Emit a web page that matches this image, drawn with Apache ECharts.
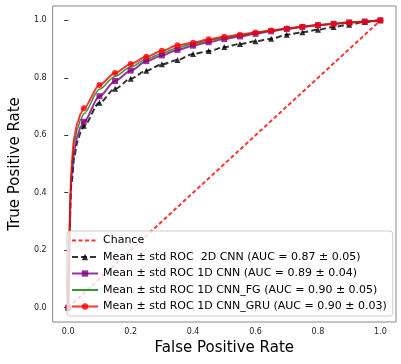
<!DOCTYPE html>
<html lang="en">
<head>
    <meta charset="UTF-8">
    <title>ROC</title>
    <script src="https://cdn.jsdelivr.net/npm/echarts@6/dist/echarts.min.js"></script>
    <style>
        body { margin: 0; background: #fff; }
        #roc { width: 401px; height: 364px; }
    </style>
</head>
<body>
    <div id="roc"></div>
    <script>
        // false positive rate grid (markers every 0.05)
        var fpr = [0, 0.01, 0.02, 0.03, 0.04, 0.05, 0.10, 0.15, 0.20, 0.25, 0.30, 0.35, 0.40, 0.45,
            0.50, 0.55, 0.60, 0.65, 0.70, 0.75, 0.80, 0.85, 0.90, 0.95, 1.00];
        var tpr2dCnn = [0, 0.43, 0.53, 0.58, 0.61, 0.633, 0.713, 0.762, 0.797, 0.825, 0.847, 0.862, 0.883, 0.893,
            0.907, 0.918, 0.927, 0.936, 0.950, 0.959, 0.967, 0.977, 0.985, 0.994, 1.0];
        var tpr1dCnn = [0, 0.45, 0.55, 0.60, 0.63, 0.647, 0.736, 0.789, 0.825, 0.858, 0.878, 0.897, 0.912, 0.924,
            0.935, 0.944, 0.953, 0.962, 0.970, 0.977, 0.983, 0.988, 0.993, 0.996, 1.0];
        var tpr1dCnnFg = [0, 0.48, 0.58, 0.625, 0.655, 0.675, 0.760, 0.805, 0.838, 0.865, 0.885, 0.905, 0.918, 0.930,
            0.940, 0.948, 0.956, 0.964, 0.971, 0.978, 0.984, 0.988, 0.993, 0.996, 1.0];
        var tpr1dCnnGru = [0, 0.50, 0.60, 0.645, 0.675, 0.694, 0.775, 0.817, 0.848, 0.873, 0.894, 0.913, 0.922, 0.934,
            0.943, 0.950, 0.958, 0.965, 0.972, 0.978, 0.984, 0.987, 0.992, 0.995, 1.0];
        var chanceX = [0, 1];
        var tickVals = [0, 0.2, 0.4, 0.6, 0.8, 1.0];
        var names = ['Chance',
            'Mean ± std ROC  2D CNN (AUC = 0.87 ± 0.05)',
            'Mean ± std ROC 1D CNN (AUC = 0.89 ± 0.04)',
            'Mean ± std ROC 1D CNN_FG (AUC = 0.90 ± 0.05)',
            'Mean ± std ROC 1D CNN_GRU (AUC = 0.90 ± 0.03)'];

        function pts(ys, withMarks) {
            var out = [];
            for (var i = 0; i < fpr.length; i++) {
                var item = { value: [fpr[i], ys[i]] };
                // only the 0.05 grid points carry a marker
                if (!withMarks || (i > 0 && i < 5)) item.symbol = 'none';
                out.push(item);
            }
            return out;
        }

        var myChart = echarts.init(document.getElementById('roc'));
        var font = 'DejaVu Sans';
        var axisCommon = {
            type: 'value',
            min: -0.05,
            max: 1.05,
            nameLocation: 'middle',
            nameTextStyle: { fontFamily: font, fontSize: 15, color: '#000' },
            axisLine: { show: false },
            splitLine: { show: false },
            axisTick: { show: true, inside: false, length: 4, customValues: tickVals, lineStyle: { color: '#333' } },
            axisLabel: {
                customValues: tickVals,
                fontFamily: font, fontSize: 8, color: '#222',
                margin: 6,
                formatter: function(v) { return v.toFixed(1); }
            }
        };

        var option = {
            animation: false,
            grid: { left: 45, right: 5, top: 6, bottom: 42, show: true, borderColor: '#888', borderWidth: 1 },
            xAxis: Object.assign({}, axisCommon, { name: 'False Positive Rate', nameGap: 16 }),
            yAxis: Object.assign({}, axisCommon, { name: 'True Positive Rate', nameGap: 20 }),
            legend: {
                orient: 'vertical',
                left: 67,
                top: 231,
                padding: [4, 6, 4, 4],
                itemWidth: 26,
                itemHeight: 8,
                itemGap: 5.5,
                backgroundColor: 'rgba(255,255,255,0.8)',
                borderColor: '#ccc',
                borderWidth: 1,
                borderRadius: 3,
                textStyle: { fontFamily: font, fontSize: 11, color: '#000' },
                data: [
                    { name: names[0], itemStyle: { opacity: 0 } },
                    { name: names[1] },
                    { name: names[2] },
                    { name: names[3], itemStyle: { opacity: 0 } },
                    { name: names[4] }
                ]
            },
            series: [{
                name: names[0],
                type: 'line',
                symbol: 'none',
                lineStyle: { color: 'rgba(255,0,0,0.8)', width: 2, type: [4, 2.5] },
                itemStyle: { color: 'rgba(255,0,0,0.8)' },
                data: [[chanceX[0], chanceX[0]], [chanceX[1], chanceX[1]]]
            }, {
                name: names[1],
                type: 'line',
                smooth: 0.3,
                smoothMonotone: 'x',
                symbol: 'triangle',
                symbolSize: 6,
                lineStyle: { color: 'rgba(0,0,0,0.8)', width: 2, type: [6, 3] },
                itemStyle: { color: 'rgba(0,0,0,0.8)' },
                data: pts(tpr2dCnn, true)
            }, {
                name: names[2],
                type: 'line',
                smooth: 0.3,
                smoothMonotone: 'x',
                symbol: 'rect',
                symbolSize: 6,
                lineStyle: { color: 'rgba(128,0,128,0.8)', width: 2 },
                itemStyle: { color: 'rgba(128,0,128,0.8)' },
                data: pts(tpr1dCnn, true)
            }, {
                name: names[3],
                type: 'line',
                smooth: 0.3,
                smoothMonotone: 'x',
                symbol: 'none',
                lineStyle: { color: 'rgba(0,128,0,0.8)', width: 1.5 },
                itemStyle: { color: 'rgba(0,128,0,0.8)' },
                data: pts(tpr1dCnnFg, false)
            }, {
                name: names[4],
                type: 'line',
                smooth: 0.3,
                smoothMonotone: 'x',
                symbol: 'circle',
                symbolSize: 6,
                lineStyle: { color: 'rgba(255,0,0,0.8)', width: 2 },
                itemStyle: { color: 'rgba(255,0,0,0.8)' },
                data: pts(tpr1dCnnGru, true)
            }]
        };
        myChart.setOption(option);
    </script>
</body>
</html>
